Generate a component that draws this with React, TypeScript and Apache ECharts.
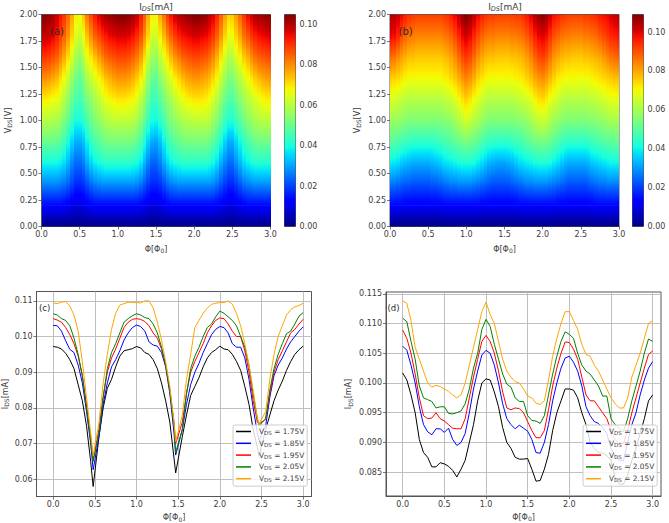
import React, { useEffect, useRef } from "react";
import * as echarts from "echarts";

const FONT = "DejaVu Sans";
const TEXT = "#3c3c3c";
const FRAME = "#555555";

const phi = [0,0.05,0.1,0.15,0.2,0.25,0.3,0.35,0.4,0.45,0.5,0.55,0.6,0.65,0.7,0.75,0.8,0.85,0.9,0.95,
  1,1.05,1.1,1.15,1.2,1.25,1.3,1.35,1.4,1.45,1.5,1.55,1.6,1.65,1.7,1.75,1.8,1.85,1.9,1.95,
  2,2.05,2.1,2.15,2.2,2.25,2.3,2.35,2.4,2.45,2.5,2.55,2.6,2.65,2.7,2.75,2.8,2.85,2.9,2.95,3];
const phiC = [0,0.05,0.1,0.15,0.2,0.25,0.3,0.35,0.4,0.45,0.48,0.55,0.6,0.65,0.7,0.75,0.8,0.85,0.9,0.95,
  1,1.05,1.1,1.15,1.2,1.25,1.3,1.35,1.4,1.45,1.47,1.55,1.6,1.65,1.7,1.75,1.8,1.85,1.9,1.95,
  2,2.05,2.1,2.15,2.2,2.25,2.3,2.35,2.4,2.45,2.47,2.55,2.6,2.65,2.7,2.75,2.8,2.85,2.9,2.95,3];
const vRows = [2.0,1.8,1.6,1.4,1.2,1.0,0.8,0.6,0.4,0.2,0.0];
const xTicks = [0,0.5,1,1.5,2,2.5,3];
const vTicks = [0,0.25,0.5,0.75,1,1.25,1.5,1.75,2];
const barTicks = [0,0.02,0.04,0.06,0.08,0.1];
const cTicks = [0.06,0.07,0.08,0.09,0.1,0.11];
const dTicks = [0.085,0.09,0.095,0.1,0.105,0.11,0.115];

// Map (a): current in uA, one list per V_DS row, top row first
const heatA = [
[104,104,103,102,98,94,90,84,77,69,68,74,82,88,93,97,100,102,103,104, 105,105,105,104,102,99,93,86,77,69,69,76,83,89,94,98,101,102,103,104, 105,105,104,103,100,97,92,85,78,72,73,78,84,90,95,98,101,102,103,104, 104],
[99,99,98,96,93,89,85,79,72,65,62,67,74,80,85,88,91,93,95,96, 97,97,97,96,94,91,87,80,72,64,63,69,75,81,85,89,92,94,95,96, 97,97,96,95,93,90,85,79,72,66,67,72,77,83,86,90,92,94,95,96, 97],
[90,90,89,87,85,81,77,71,64,58,55,60,66,70,74,78,81,84,86,87, 88,88,88,87,85,82,78,71,63,57,56,61,66,70,75,79,82,85,86,87, 88,88,87,86,84,81,76,70,64,59,60,64,68,73,76,80,83,85,86,87, 88],
[80,80,79,77,75,71,67,62,56,51,49,53,58,62,65,68,71,74,76,78, 79,79,79,78,76,73,69,63,56,50,49,54,58,62,65,69,72,75,77,78, 79,79,78,77,75,72,68,62,57,52,53,56,60,64,67,70,73,75,77,78, 79],
[69,69,68,67,66,64,60,55,50,46,45,48,52,55,58,61,64,66,68,69, 70,70,70,69,68,65,61,56,50,45,44,48,52,55,58,61,64,66,68,69, 70,70,70,69,67,64,60,55,50,47,47,50,54,57,60,62,64,66,68,69, 69],
[60,60,60,59,58,56,53,49,44,40,40,42,46,50,53,55,57,59,60,61, 61,61,61,61,60,58,54,49,44,40,39,42,46,50,53,55,57,59,60,60, 61,61,61,61,60,57,53,49,44,41,41,44,48,51,54,56,58,59,60,60, 60],
[50,50,50,50,49,48,45,40,35,31,31,33,38,43,46,48,50,51,52,52, 52,52,52,52,51,49,46,41,35,31,30,33,38,43,46,48,50,51,52,52, 52,52,52,52,51,48,45,40,35,31,31,35,39,43,46,48,50,51,51,51, 51],
[39,39,39,39,39,38,36,32,27,24,24,26,31,35,38,40,41,42,42,42, 42,42,42,42,41,40,37,32,27,23,23,26,31,35,38,40,41,42,42,42, 42,42,42,42,41,39,36,31,27,24,24,28,32,36,38,40,41,41,41,41, 41],
[27,27,27,27,27,26,25,23,20,17,17,18,21,24,26,27,28,28,28,28, 28,28,28,28,28,27,25,22,19,17,17,18,21,24,26,27,28,28,28,28, 28,28,28,28,28,27,25,22,19,17,17,19,22,25,26,27,28,28,28,28, 28],
[13,13,13,13,13,13,12,11,10,9,9,10,11,12,13,13,13,13,13,13, 13,13,13,13,13,13,12,11,10,9,9,10,11,12,13,13,13,13,13,13, 13,13,13,13,13,13,12,11,10,9,9,10,11,12,13,13,13,13,13,13, 13],
[0,0,0,0,0,0,0,0,0,0,0,0,0,0,0,0,0,0,0,0, 0,0,0,0,0,0,0,0,0,0,0,0,0,0,0,0,0,0,0,0, 0,0,0,0,0,0,0,0,0,0,0,0,0,0,0,0,0,0,0,0, 0],
];

// Map (b)
const heatB = [
[105,104,102,99,96,94,93,92,92,92,92,92,92,92,93,94,96,99,103,107, 109,107,103,99,96,94,93,93,92,92,92,92,92,93,93,95,97,100,104,107, 108,106,102,98,96,94,93,92,92,92,92,93,93,94,95,97,98,99,101,102, 103],
[99,98,95,91,88,86,85,84,84,84,84,84,84,84,85,86,88,91,95,99, 101,99,95,91,88,86,85,85,84,84,84,84,85,85,86,87,89,92,96,99, 100,98,94,90,88,86,85,85,84,84,84,85,85,86,87,89,91,93,95,96, 97],
[87,86,83,81,79,77,77,76,76,76,76,76,76,76,77,78,80,83,87,91, 93,91,87,83,80,78,77,77,76,76,76,76,77,77,78,79,81,84,88,91, 92,90,86,82,80,78,77,77,76,76,76,77,77,78,79,80,82,84,86,87, 88],
[76,75,74,73,71,70,70,70,70,70,70,70,70,70,71,72,74,76,79,82, 84,82,79,75,73,71,70,70,70,70,70,70,70,71,72,73,75,77,80,82, 83,81,78,75,72,71,70,70,70,70,70,70,70,71,72,73,74,75,76,77, 77],
[67,66,65,64,63,62,62,62,62,62,62,62,62,62,63,64,65,67,70,73, 75,73,70,67,65,63,62,62,62,62,62,62,62,63,64,65,66,68,71,73, 74,72,69,67,65,63,62,62,62,62,62,62,63,63,64,65,66,67,68,68, 69],
[59,58,58,57,56,55,55,55,55,55,55,55,55,55,56,56,57,59,62,64, 66,64,62,60,58,56,55,55,55,55,55,55,55,56,56,57,58,60,62,64, 65,64,61,59,57,56,55,55,55,55,55,55,55,56,56,57,58,59,60,60, 60],
[50,49,48,47,46,45,44,44,44,44,44,44,45,46,47,48,49,51,52,53, 54,53,52,50,48,46,45,44,44,44,44,44,45,46,47,48,50,51,53,53, 54,53,52,50,48,46,45,44,44,44,44,44,45,46,47,48,49,50,50,51, 51],
[39,38,37,35,34,33,32,32,32,32,32,33,34,35,37,38,39,40,41,42, 42,42,41,39,37,35,33,32,31,31,31,32,33,35,37,38,39,40,41,42, 42,42,41,39,37,35,33,32,32,32,32,32,33,35,36,37,38,39,40,40, 40],
[26,26,25,24,23,23,22,22,22,22,22,23,23,24,25,26,27,27,28,28, 28,28,27,26,25,24,23,22,22,22,22,22,23,24,25,26,27,27,28,28, 28,28,27,26,25,24,23,22,22,22,22,22,23,24,25,26,26,27,27,27, 27],
[13,13,13,13,12,12,12,12,12,12,12,12,12,12,13,13,13,13,13,13, 13,13,13,13,12,12,12,12,12,12,12,12,12,12,13,13,13,13,13,13, 13,13,13,13,12,12,12,12,12,12,12,12,12,12,13,13,13,13,13,13, 13],
[0,0,0,0,0,0,0,0,0,0,0,0,0,0,0,0,0,0,0,0, 0,0,0,0,0,0,0,0,0,0,0,0,0,0,0,0,0,0,0,0, 0,0,0,0,0,0,0,0,0,0,0,0,0,0,0,0,0,0,0,0, 0],
];

// Panel (c), uA
const c175 = [97.2,97,96.5,95.3,93.5,91,86.5,82,75,65,58,72,80,85.5,88,91.5,94.5,96,96.3,96.6, 97.2,96.8,95.5,95,93.5,91,87,82,76,66,61.8,72,78,83.5,86,88.5,91.5,94,95.5,96.3, 97.3,96.5,96.3,95,93,90.5,86,81,74,69,66.5,74,78,82,85,87.5,90.5,93,95,96.3, 97.3];
const c185 = [103.1,103,101.5,98.8,96.4,95.5,92,87,79,70,62.7,72,81,87,91.5,93.5,96,99,101,102.5, 103.2,102.8,101.5,98.5,97.6,97.3,95.5,91.5,84,73,66.8,74,81,86.5,90,92.5,95.5,98,100.5,102, 102.8,102.5,101,98,97,97,94,88,80,73,71,75,83,89,92,94,96.5,98.5,100,101.5, 102.7];
const c195 = [105,104.6,104,102.5,100.5,98,94.5,89,81,72,65.5,74,83,90,94,96.5,99.5,102.5,104,104.8, 105,104.8,104.2,103,101,99.5,96.5,92,85,76,70,76,84,90,93,95.5,98,101,103,104.5, 105.2,105,103.5,101.5,100,100,96,90,82,76,75.5,76.8,84,90,93.5,96,98.5,101,102,103.5, 104.8];
const c205 = [106.4,106,105,104.5,103,99.5,95,89,80,71,65,73,83,91,95.5,98,101,104,105,105.8, 106.4,106,105.3,105,103.5,101,97,92,85,75,67.5,74,84,91,94.5,97,100,102.5,103.5,105.5, 107.1,106.5,105.5,104.5,103,100,97,92,84,77,75,77,85,91,95,98,100.8,101.5,103.5,105.7, 106.7];
const c215 = [109.4,109.2,109.6,109.8,108.5,106,101.5,93,83,73,66.5,76,87,95,102,106.5,108.8,109.2,109.6,109.5, 109.5,109.4,110,110,108,104,99,93,86,76,70.5,78,88,95,102.5,104.5,106.5,108,109,109.3, 109.5,109.5,110,109,106.5,103,98,92,85,77,75.5,79,88,95,100,103,106,107.5,108.3,108.7, 109.3];

// Panel (d), uA
const d175 = [101.7,100.5,98,95,90.5,88.3,87.5,85.9,85.9,86.6,86.4,86,85.3,84.2,85.5,87,90,93,97,100, 100.7,100.5,98.5,96,92.5,90,89,87.5,87.2,87.2,87.3,85.5,83.5,83.6,85.5,88,92,95,97,99, 99,98.8,97.5,95,93,90,89,88.3,88.2,87.8,87,84,83,83,84.5,87,89,91.5,94,97, 98];
const d185 = [106.2,105.5,103,100,96,93,91.8,91.3,92.3,92.3,91.7,92.4,90.5,89.5,90,91.5,95,99,102,104.7, 105.5,105,103,100,96.5,94,93,92.3,92.9,92.4,91.9,90.5,88.3,88.2,90,93,97,100,102.5,104.2, 104.5,103.5,102,99.5,96,94.5,93.5,93.2,92.5,91.5,89,87.8,87,87,90,93,95,98,100.5,102.5, 103.6];
const d195 = [108.9,107.5,105,101.5,97.5,94.5,94,94.1,95,94,93.6,93,92.4,92.3,92.3,94,97.5,101,104,107, 108,107,105,102,98.5,95.8,95.5,95.8,95.7,95,93.5,92,90.8,90.8,92,95.5,99.5,102.5,105,106.9, 106.8,105.7,104,101,98,97,97,96,95,94,92,90.5,89.8,89.8,92,95,97.5,100,102.5,104.8, 105.4];
const d205 = [110.9,110.3,107,104,99.5,97.5,97.2,96.9,95.8,96,96,94.9,94.8,95,95.3,96.5,99,102.5,105,109, 110.7,109.5,106.5,104,101.5,99.8,99.3,97.5,96.9,96.9,94.5,93.7,93.6,93.2,94.5,98,101.5,104.5,107,108.6, 108.2,107.5,105,103,102,101.5,100.5,99.5,97.8,97.8,94,93,92.3,91.8,94,97,99.5,102,105,107.4, 107];
const d215 = [113.8,113.4,110.5,106,104,102,100,99.3,99.6,99.4,99,98.6,98,97.5,98,100,103,106,109,112, 113.6,111.5,110,107,104,102,101,100.2,100,99,97.8,97.5,96.6,96.4,97,100.5,104.5,107.5,110,112, 112,110.5,109,106.5,104.8,104.5,103,102,100.5,99,97.5,96.5,95.8,95.8,97.5,101,103,105,107.5,110, 110.5];

const lineNames = ["VDS = 1.75V","VDS = 1.85V","VDS = 1.95V","VDS = 2.05V","VDS = 2.15V"];
const lineColors = ["#000000","#0000ff","#ff0000","#008000","#ffa500"];

function ramp(t: number, pts: number[][]) {
  if (t <= pts[0][0]) return pts[0][1];
  for (let i = 1; i < pts.length; i++) {
    if (t <= pts[i][0]) {
      const k = (t - pts[i - 1][0]) / (pts[i][0] - pts[i - 1][0]);
      return pts[i - 1][1] + k * (pts[i][1] - pts[i - 1][1]);
    }
  }
  return pts[pts.length - 1][1];
}
function jet(t: number) {
  const r = ramp(t, [[0,0],[0.35,0],[0.66,1],[0.89,1],[1,0.5]]);
  const g = ramp(t, [[0,0],[0.125,0],[0.375,1],[0.64,1],[0.91,0],[1,0]]);
  const b = ramp(t, [[0,0.5],[0.11,1],[0.34,1],[0.65,0],[1,0]]);
  return `rgb(${Math.round(r * 255)},${Math.round(g * 255)},${Math.round(b * 255)})`;
}
function jetGradient(top: number, bottom: number, n: number) {
  const stops = [];
  for (let i = 0; i <= n; i++) {
    const k = i / n;
    stops.push({ offset: k, color: jet(top + (bottom - top) * k) });
  }
  return new echarts.graphic.LinearGradient(0, 0, 0, 1, stops);
}

function heatSeries(matrix: number[][], max: number, axis: number) {
  const data: number[][] = [];
  for (let r = 0; r < vRows.length - 1; r++) {
    phi.forEach((p, c) => {
      data.push([p, vRows[r + 1], matrix[r + 1][c] / 1000, vRows[r], matrix[r][c] / 1000]);
    });
  }
  return {
    type: "custom", xAxisIndex: axis, yAxisIndex: axis, silent: true, clip: true, data,
    renderItem: (_: any, api: any) => {
      const p = api.value(0);
      const tl = api.coord([Math.max(0, p - 0.025), api.value(3)]);
      const br = api.coord([Math.min(3, p + 0.025), api.value(1)]);
      const x = Math.round(tl[0]);
      return {
        type: "rect",
        shape: { x, y: tl[1], width: Math.round(br[0]) - x, height: br[1] - tl[1] + 0.5 },
        style: { fill: jetGradient(api.value(4) / max, api.value(2) / max, 4) },
      };
    },
  };
}
function barSeries(max: number, axis: number) {
  return {
    type: "custom", xAxisIndex: axis, yAxisIndex: axis, silent: true, clip: true,
    data: [[0, 0, max]],
    renderItem: (_: any, api: any) => {
      const tl = api.coord([0, api.value(2)]);
      const br = api.coord([1, api.value(1)]);
      return {
        type: "rect",
        shape: { x: tl[0], y: tl[1], width: br[0] - tl[0], height: br[1] - tl[1] },
        style: { fill: jetGradient(1, 0, 40) },
      };
    },
  };
}
function lineSeries(xs: number[], lists: number[][], axis: number) {
  return lists.map((list, i) => ({
    type: "line", name: lineNames[i], xAxisIndex: axis, yAxisIndex: axis,
    symbol: "none", silent: true, z: 2 + i * 0.01,
    lineStyle: { color: lineColors[i], width: 1 }, itemStyle: { color: lineColors[i] },
    data: xs.map((x, k) => [x, list[k] / 1000]),
  }));
}

const rich = {
  v: { fontFamily: FONT, fontSize: 8, color: TEXT },
  s: { fontFamily: FONT, fontSize: 6, color: TEXT, verticalAlign: "bottom", padding: [3, 0, 0, 0] },
  tv: { fontFamily: FONT, fontSize: 9, color: TEXT },
  ti: { fontFamily: FONT, fontSize: 6.5, fontStyle: "italic", color: TEXT, verticalAlign: "bottom", padding: [3, 0, 0, 0] },
  lv: { fontFamily: FONT, fontSize: 7.4, color: TEXT },
  ls: { fontFamily: FONT, fontSize: 5.5, color: TEXT, verticalAlign: "bottom", padding: [3, 0, 0, 0] },
};
const axisBase = {
  axisLine: { show: true, onZero: false, lineStyle: { color: FRAME, width: 1 } },
  axisTick: { show: true, length: 3, lineStyle: { color: FRAME, width: 0.8 } },
};
function xAxis(grid: number, min: number, max: number, gridlines: boolean, gap: number) {
  return {
    type: "value", gridIndex: grid, min, max, ...axisBase,
    axisTick: { ...axisBase.axisTick, customValues: xTicks },
    axisLabel: { customValues: xTicks, fontFamily: FONT, fontSize: 8, color: TEXT, margin: 4, formatter: (v: number) => v.toFixed(1) },
    splitLine: { show: gridlines, lineStyle: { color: "#b8b8b8", width: 0.9 } },
    name: "{v|Φ[Φ}{s|0}{v|]}", nameLocation: "middle", nameGap: gap,
    nameTextStyle: { rich, fontFamily: FONT, fontSize: 8, color: TEXT },
  };
}
function yAxis(grid: number, min: number, max: number, ticks: number[], digits: number, label: string, gap: number, gridlines: boolean) {
  return {
    type: "value", gridIndex: grid, min, max, ...axisBase,
    axisTick: { ...axisBase.axisTick, customValues: ticks },
    axisLabel: { customValues: ticks, fontFamily: FONT, fontSize: 8, color: TEXT, margin: 4, formatter: (v: number) => v.toFixed(digits) },
    splitLine: { show: gridlines, lineStyle: { color: "#b8b8b8", width: 0.9 } },
    name: label, nameLocation: "middle", nameGap: gap, nameRotate: 90,
    nameTextStyle: { rich, fontFamily: FONT, fontSize: 8, color: TEXT },
  };
}
function barY(grid: number, max: number) {
  return {
    type: "value", gridIndex: grid, min: 0, max, position: "right",
    axisLine: { show: false },
    axisTick: { show: true, length: 3, customValues: barTicks, lineStyle: { color: FRAME, width: 0.8 } },
    axisLabel: { customValues: barTicks, fontFamily: FONT, fontSize: 8, color: TEXT, margin: 4, formatter: (v: number) => v.toFixed(2) },
    splitLine: { show: false },
  };
}
function barX(grid: number) {
  return { type: "value", gridIndex: grid, min: 0, max: 1, show: false };
}
const frame = { show: true, borderColor: FRAME, borderWidth: 1, backgroundColor: "transparent" };
function legend(left: number) {
  return {
    left, top: 425, orient: "vertical", align: "left", data: lineNames, selectedMode: false,
    icon: "rect", itemWidth: 15, itemHeight: 1.5, itemGap: 3.8,
    padding: [3, 3, 3, 3], backgroundColor: "rgba(255,255,255,0.82)",
    borderColor: "#cccccc", borderWidth: 1, borderRadius: 2,
    textStyle: { rich, fontFamily: FONT, fontSize: 7.4, color: TEXT, padding: [0, 0, 0, 3] },
    formatter: (n: string) => `{lv|V}{ls|DS}{lv|${n.slice(3)}}`,
  };
}
function title(text: string, left: number, top: number) {
  return { text, left, top, textAlign: "center", padding: 0, textStyle: { rich, fontFamily: FONT, fontSize: 9, fontWeight: "normal", color: TEXT } };
}
function panelTag(text: string, x: number, y: number, size: number) {
  return { type: "text", x, y, z: 50, style: { text, fontFamily: FONT, fontSize: size, fill: "#2a2a2a" } };
}

export default function App() {
  const ref = useRef<HTMLDivElement>(null);
  useEffect(() => {
    const chart = echarts.init(ref.current!, undefined, { renderer: "svg" });
    chart.setOption({
      animation: false,
      backgroundColor: "#ffffff",
      title: [
        title("{tv|I}{ti|DS}{tv|[mA]}", 156, 2),
        title("{tv|I}{ti|DS}{tv|[mA]}", 505, 2),
      ],
      legend: [legend(233), legend(583)],
      grid: [
        { left: 41.5, top: 14.5, width: 229, height: 212, ...frame },
        { left: 284.5, top: 14.5, width: 11, height: 212, ...frame },
        { left: 390, top: 14.5, width: 229, height: 212, ...frame },
        { left: 632.5, top: 14.5, width: 11, height: 212, ...frame },
        { left: 36.5, top: 291.5, width: 275, height: 205, ...frame },
        { left: 386, top: 292, width: 275, height: 204, ...frame },
      ],
      xAxis: [
        xAxis(0, 0, 3, false, 18), barX(1), xAxis(2, 0, 3, false, 18), barX(3),
        xAxis(4, -0.2, 3.1, true, 16.5), xAxis(5, -0.2, 3.1, true, 16.5),
      ],
      yAxis: [
        yAxis(0, 0, 2, vTicks, 2, "{v|V}{s|DS}{v|[V]}", 29, false), barY(1, 0.105),
        yAxis(2, 0, 2, vTicks, 2, "{v|V}{s|DS}{v|[V]}", 28.5, false), barY(3, 0.109),
        yAxis(4, 0.0552, 0.1126, cTicks, 2, "{v|I}{s|DS}{v|[mA]}", 27, true),
        yAxis(5, 0.081, 0.1153, dTicks, 3, "{v|I}{s|DS}{v|[mA]}", 33, true),
      ],
      series: [
        heatSeries(heatA, 0.105, 0), barSeries(0.105, 1),
        heatSeries(heatB, 0.109, 2), barSeries(0.109, 3),
        ...lineSeries(phiC, [c175, c185, c195, c205, c215], 4),
        ...lineSeries(phi, [d175, d185, d195, d205, d215], 5),
      ],
      graphic: [
        panelTag("(a)", 50, 26, 10),
        panelTag("(b)", 398.5, 26, 10),
        panelTag("(c)", 39, 303, 8.5),
        panelTag("(d)", 387.5, 303, 8.5),
      ],
    });
    return () => chart.dispose();
  }, []);
  return <div ref={ref} style={{ position: "absolute", left: 0, top: 0, width: 669, height: 523 }} />;
}
